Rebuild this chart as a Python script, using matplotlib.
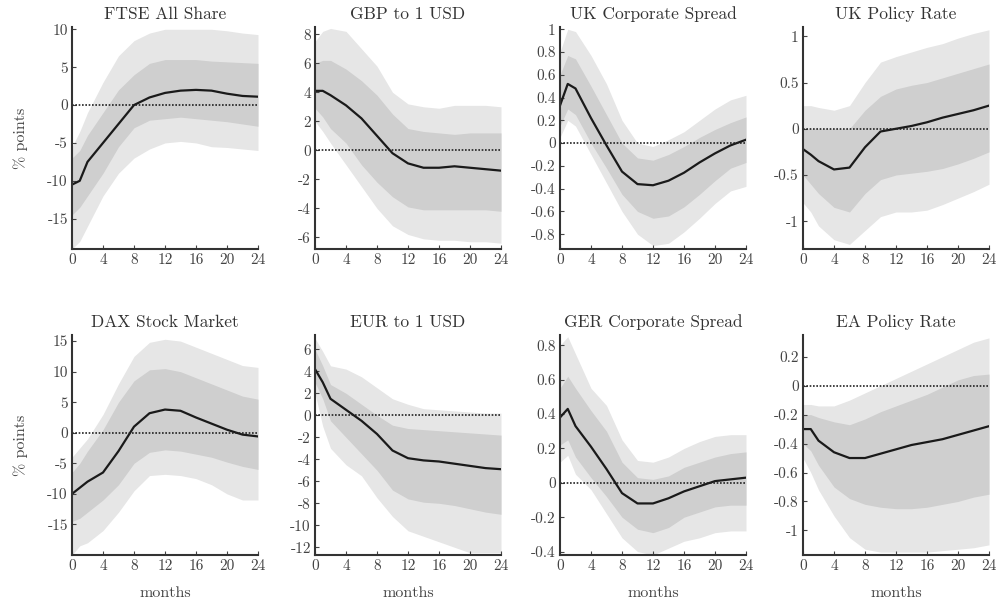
import matplotlib
matplotlib.use("Agg")
import matplotlib.pyplot as plt

plt.rcParams['font.family'] = ['cmr10', 'DejaVu Serif']
plt.rcParams['axes.formatter.use_mathtext'] = True

months = [0, 1, 2, 4, 6, 8, 10, 12, 14, 16, 18, 20, 22, 24]

titles = ["FTSE All Share", "GBP to 1 USD", "UK Corporate Spread", "UK Policy Rate",
          "DAX Stock Market", "EUR to 1 USD", "GER Corporate Spread", "EA Policy Rate"]

ftse_med = [-10.5, -10, -7.5, -5, -2.5, 0, 1, 1.6, 1.9, 2, 1.9, 1.5, 1.2, 1.1]
ftse_ilo = [-14.5, -13.5, -12, -9, -5.5, -3, -2, -1.8, -1.6, -1.8, -2, -2.2, -2.5, -2.8]
ftse_ihi = [-7, -6, -4, -1, 2, 4, 5.5, 6, 6, 6, 5.8, 5.7, 5.6, 5.5]
ftse_olo = [-19, -18, -16, -12, -9, -7, -5.8, -5, -4.8, -5, -5.5, -5.6, -5.8, -6]
ftse_ohi = [-5.5, -3.5, -1, 3, 6.5, 8.5, 9.5, 10, 10, 10, 10, 9.8, 9.5, 9.3]

gbp_med = [4.1, 4.1, 3.8, 3.1, 2.2, 1.0, -0.2, -0.9, -1.2, -1.2, -1.1, -1.2, -1.3, -1.4]
gbp_ilo = [2.9, 2.3, 1.5, 0.5, -1, -2.2, -3.2, -3.9, -4.1, -4.1, -4.1, -4.1, -4.1, -4.2]
gbp_ihi = [6, 6.2, 6.2, 5.6, 4.8, 3.8, 2.5, 1.5, 1.3, 1.2, 1.1, 1.2, 1.2, 1.2]
gbp_olo = [2, 1.3, 0.5, -1, -2.5, -4, -5.2, -5.8, -6.1, -6.2, -6.2, -6.3, -6.3, -6.4]
gbp_ohi = [7.5, 8.2, 8.4, 8.2, 7, 5.8, 4, 3.2, 3, 2.9, 3.1, 3.1, 3.1, 3]

ukcs_med = [0.33, 0.52, 0.48, 0.22, -0.02, -0.25, -0.36, -0.37, -0.33, -0.26, -0.17, -0.09, -0.02, 0.03]
ukcs_ilo = [0.15, 0.3, 0.25, 0, -0.22, -0.45, -0.6, -0.66, -0.64, -0.56, -0.45, -0.33, -0.22, -0.17]
ukcs_ihi = [0.6, 0.77, 0.74, 0.5, 0.25, 0.0, -0.13, -0.15, -0.1, -0.03, 0.05, 0.12, 0.18, 0.23]
ukcs_olo = [0.05, 0.2, 0.15, -0.1, -0.35, -0.6, -0.8, -0.9, -0.88, -0.78, -0.66, -0.53, -0.42, -0.38]
ukcs_ohi = [0.8, 1.0, 0.98, 0.77, 0.52, 0.2, 0.0, -0.03, 0.03, 0.1, 0.2, 0.3, 0.38, 0.42]

ukpr_med = [-0.22, -0.28, -0.35, -0.44, -0.42, -0.2, -0.03, 0, 0.03, 0.07, 0.12, 0.16, 0.2, 0.25]
ukpr_ilo = [-0.5, -0.6, -0.7, -0.85, -0.9, -0.7, -0.55, -0.5, -0.48, -0.46, -0.43, -0.38, -0.32, -0.25]
ukpr_ihi = [0.0, 0.0, 0.0, 0.0, 0.0, 0.2, 0.35, 0.43, 0.47, 0.5, 0.55, 0.6, 0.65, 0.7]
ukpr_olo = [-0.8, -0.9, -1.05, -1.2, -1.25, -1.1, -0.95, -0.9, -0.9, -0.88, -0.82, -0.75, -0.68, -0.6]
ukpr_ohi = [0.25, 0.25, 0.23, 0.2, 0.25, 0.5, 0.72, 0.78, 0.83, 0.88, 0.92, 0.98, 1.03, 1.07]

dax_med = [-10, -9, -8, -6.5, -3, 1, 3.2, 3.8, 3.6, 2.5, 1.5, 0.5, -0.3, -0.6]
dax_ilo = [-14.5, -14, -13, -11, -8.5, -5, -3.2, -2.8, -3, -3.5, -4, -4.8, -5.5, -6]
dax_ihi = [-6.5, -5, -3, 0.5, 5, 8.5, 10.3, 10.5, 10, 9, 8, 7, 6, 5.5]
dax_olo = [-20, -18.5, -18, -16, -13, -9.5, -7, -6.8, -7, -7.5, -8.5, -10, -11, -11]
dax_ohi = [-4, -2.5, -1, 3, 8, 12.5, 14.8, 15.3, 15, 14, 13, 12, 11, 10.7]

eur_med = [4.2, 3, 1.5, 0.5, -0.5, -1.7, -3.2, -3.9, -4.1, -4.2, -4.4, -4.6, -4.8, -4.9]
eur_ilo = [3, 1.5, -0.5, -2, -3.5, -5, -6.8, -7.6, -7.9, -8, -8.2, -8.5, -8.8, -9]
eur_ihi = [6, 4.5, 2.8, 2, 1, 0, -0.9, -1.2, -1.3, -1.4, -1.5, -1.6, -1.7, -1.8]
eur_olo = [2, -1, -3, -4.5, -5.5, -7.5, -9.2, -10.5, -11, -11.5, -12, -12.5, -12.5, -12.5]
eur_ohi = [7, 5.8, 4.5, 4.2, 3.5, 2.5, 1.5, 1.0, 0.6, 0.5, 0.4, 0.3, 0.2, 0.2]

ger_med = [0.38, 0.43, 0.33, 0.21, 0.08, -0.06, -0.12, -0.12, -0.09, -0.05, -0.02, 0.01, 0.02, 0.03]
ger_ilo = [0.22, 0.25, 0.15, 0.03, -0.08, -0.2, -0.27, -0.29, -0.26, -0.2, -0.17, -0.14, -0.13, -0.13]
ger_ihi = [0.55, 0.62, 0.55, 0.42, 0.3, 0.12, 0.03, 0.02, 0.04, 0.09, 0.12, 0.15, 0.17, 0.18]
ger_olo = [0.12, 0.16, 0.05, -0.04, -0.18, -0.32, -0.4, -0.42, -0.38, -0.34, -0.32, -0.29, -0.28, -0.28]
ger_ohi = [0.8, 0.85, 0.75, 0.55, 0.45, 0.25, 0.13, 0.12, 0.15, 0.2, 0.24, 0.27, 0.28, 0.28]

ea_med = [-0.3, -0.3, -0.38, -0.46, -0.5, -0.5, -0.47, -0.44, -0.41, -0.39, -0.37, -0.34, -0.31, -0.28]
ea_ilo = [-0.4, -0.45, -0.55, -0.7, -0.78, -0.82, -0.84, -0.85, -0.85, -0.84, -0.82, -0.8, -0.77, -0.75]
ea_ihi = [-0.2, -0.2, -0.22, -0.25, -0.27, -0.23, -0.18, -0.14, -0.1, -0.06, -0.01, 0.04, 0.07, 0.08]
ea_olo = [-0.5, -0.6, -0.72, -0.9, -1.05, -1.13, -1.15, -1.15, -1.15, -1.15, -1.14, -1.13, -1.12, -1.1]
ea_ohi = [-0.13, -0.13, -0.14, -0.14, -0.1, -0.05, 0.0, 0.05, 0.1, 0.15, 0.2, 0.25, 0.3, 0.33]

series = [
    (ftse_med, ftse_ilo, ftse_ihi, ftse_olo, ftse_ohi),
    (gbp_med, gbp_ilo, gbp_ihi, gbp_olo, gbp_ohi),
    (ukcs_med, ukcs_ilo, ukcs_ihi, ukcs_olo, ukcs_ohi),
    (ukpr_med, ukpr_ilo, ukpr_ihi, ukpr_olo, ukpr_ohi),
    (dax_med, dax_ilo, dax_ihi, dax_olo, dax_ohi),
    (eur_med, eur_ilo, eur_ihi, eur_olo, eur_ohi),
    (ger_med, ger_ilo, ger_ihi, ger_olo, ger_ohi),
    (ea_med, ea_ilo, ea_ihi, ea_olo, ea_ohi),
]

ylims = [(-19, 10.3), (-6.8, 8.5), (-0.93, 1.02), (-1.3, 1.1),
         (-20, 16), (-12.7, 7.3), (-0.42, 0.86), (-1.17, 0.35)]
yticks = [
    [-15, -10, -5, 0, 5, 10],
    [-6, -4, -2, 0, 2, 4, 6, 8],
    [-0.8, -0.6, -0.4, -0.2, 0, 0.2, 0.4, 0.6, 0.8, 1],
    [-1, -0.5, 0, 0.5, 1],
    [-15, -10, -5, 0, 5, 10, 15],
    [-12, -10, -8, -6, -4, -2, 0, 2, 4, 6],
    [-0.4, -0.2, 0, 0.2, 0.4, 0.6, 0.8],
    [-1, -0.8, -0.6, -0.4, -0.2, 0, 0.2],
]
xticks = [0, 4, 8, 12, 16, 20, 24]

fig = plt.figure(figsize=(9.97, 6.03), dpi=100)
W, H = 997, 603
lefts = [72, 315, 560, 803]
widths = 186
tops = [27, 335]
heights = [222, 220]

for i in range(8):
    r, c = divmod(i, 4)
    ax = fig.add_axes([lefts[c] / W, 1 - (tops[r] + heights[r]) / H, widths / W, heights[r] / H])
    med, ilo, ihi, olo, ohi = series[i]
    ax.fill_between(months, olo, ohi, color='#e6e6e6', lw=0)
    ax.fill_between(months, ilo, ihi, color='#cfcfcf', lw=0)
    ax.plot(months, med, color='#1a1a1a', lw=1.6)
    ax.axhline(0, color='#222222', lw=1.2, ls=(0, (1, 1)))
    ax.set_xlim(0, 24)
    ax.set_ylim(*ylims[i])
    ax.set_xticks(xticks)
    ax.set_xticklabels([str(t) for t in xticks])
    ax.set_yticks(yticks[i])
    ax.set_yticklabels(['%g' % t for t in yticks[i]])
    for s in ['top', 'right']:
        ax.spines[s].set_visible(False)
    for s in ['left', 'bottom']:
        ax.spines[s].set_linewidth(1.5)
        ax.spines[s].set_color('#333333')
    ax.tick_params(direction='in', length=3, labelsize=11, colors='#444444', pad=3)
    ax.set_title(titles[i], fontsize=12.5, color='#333333', pad=6)
    if c == 0:
        ax.set_ylabel('% points', fontsize=11.5, color='#444444', labelpad=14)
    if r == 1:
        ax.set_xlabel('months', fontsize=11.5, color='#444444', labelpad=10)

fig.savefig('out.png', dpi=100)
